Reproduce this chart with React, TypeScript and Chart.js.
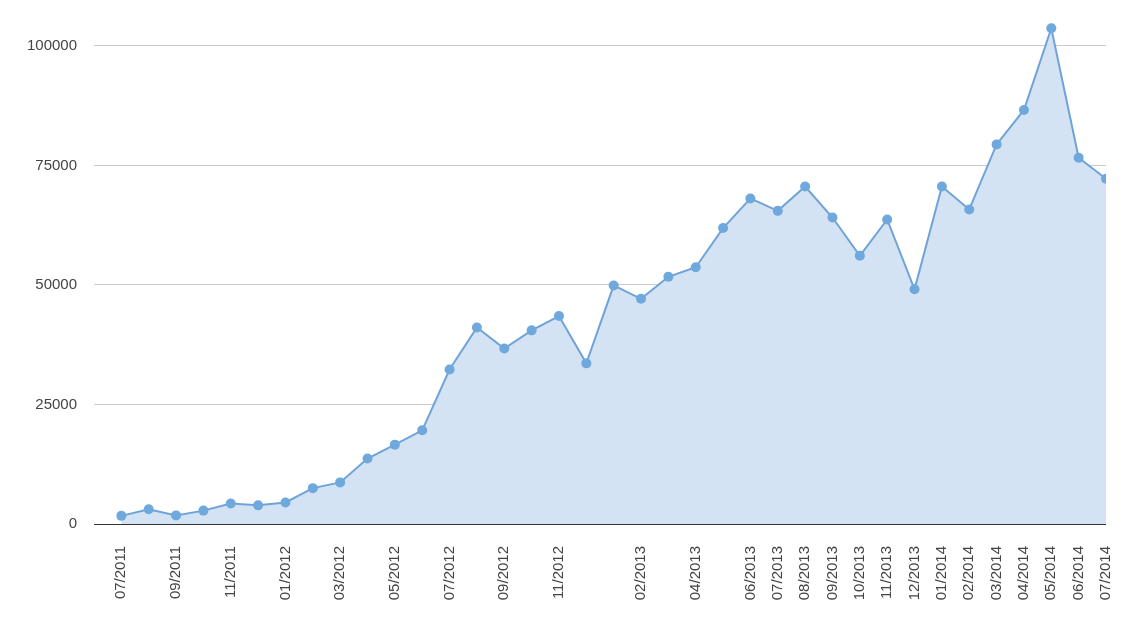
import React, { useEffect, useRef } from "react";
import { Chart, registerables } from "chart.js";

Chart.register(...registerables);

const months = [
  "07/2011", "08/2011", "09/2011", "10/2011", "11/2011", "12/2011",
  "01/2012", "02/2012", "03/2012", "04/2012", "05/2012", "06/2012",
  "07/2012", "08/2012", "09/2012", "10/2012", "11/2012", "12/2012",
  "01/2013", "02/2013", "03/2013", "04/2013", "05/2013", "06/2013",
  "07/2013", "08/2013", "09/2013", "10/2013", "11/2013", "12/2013",
  "01/2014", "02/2014", "03/2014", "04/2014", "05/2014", "06/2014",
  "07/2014",
];

const values = [
  1700, 3100, 1800, 2800, 4300, 3900, 4500, 7500, 8700, 13700, 16600, 19600,
  32300, 41100, 36700, 40500, 43500, 33600, 49900, 47100, 51700, 53700, 61900,
  68100, 65500, 70600, 64100, 56100, 63700, 49100, 70600, 65800, 79400, 86600,
  103700, 76600, 72200,
];

const shownTickLabels = [
  "07/2011", "09/2011", "11/2011", "01/2012", "03/2012", "05/2012",
  "07/2012", "09/2012", "11/2012", "02/2013", "04/2013", "06/2013",
  "07/2013", "08/2013", "09/2013", "10/2013", "11/2013", "12/2013",
  "01/2014", "02/2014", "03/2014", "04/2014", "05/2014", "06/2014",
  "07/2014",
];

const yTicks = [0, 25000, 50000, 75000, 100000];

export default function App() {
  const ref = useRef<HTMLCanvasElement | null>(null);

  useEffect(() => {
    if (!ref.current) return;
    const font = { family: "'Liberation Sans', Arial, sans-serif", size: 15 };
    const chart = new Chart(ref.current, {
      type: "line",
      data: {
        datasets: [
          {
            data: values.map((v, i) => ({ x: i, y: v })),
            borderColor: "#6fa3d8",
            backgroundColor: "#d3e3f4",
            fill: "origin",
            borderWidth: 2,
            tension: 0,
            pointRadius: 5,
            pointBorderWidth: 0,
            pointBackgroundColor: "#6fa8dc",
            pointHoverRadius: 5,
          },
        ],
      },
      options: {
        animation: false,
        responsive: false,
        events: [],
        layout: { padding: { left: 0, top: 22, right: 23, bottom: 0 } },
        plugins: { legend: { display: false }, tooltip: { enabled: false } },
        scales: {
          x: {
            type: "linear",
            min: -1,
            max: 36,
            grid: { display: false, drawTicks: false },
            border: { display: false },
            afterBuildTicks: (scale: any) => {
              scale.ticks = months
                .map((m, i) => ({ value: i, m }))
                .filter((t) => shownTickLabels.includes(t.m))
                .map((t) => ({ value: t.value }));
            },
            afterFit: (scale: any) => {
              scale.height = 96;
              scale.paddingRight = 0;
              scale.paddingLeft = 0;
            },
            ticks: {
              autoSkip: false,
              minRotation: 90,
              maxRotation: 90,
              padding: 22,
              color: "#444",
              font,
              callback: (v: any) => months[Number(v)] ?? "",
            },
          },
          y: {
            type: "linear",
            min: 0,
            max: 105000,
            border: { display: false },
            grid: {
              drawTicks: false,
              color: (ctx: any) =>
                ctx.tick && ctx.tick.value === 0 ? "#333" : "#cccccc",
              lineWidth: 1,
            },
            afterBuildTicks: (scale: any) => {
              scale.ticks = yTicks.map((v) => ({ value: v }));
            },
            afterFit: (scale: any) => {
              scale.width = 94;
              scale.paddingTop = 0;
              scale.paddingBottom = 0;
            },
            ticks: {
              padding: 17,
              color: "#444",
              font,
              callback: (v: any) => String(v),
            },
          },
        },
      },
    });
    return () => chart.destroy();
  }, []);

  return (
    <div
      style={{
        position: "fixed",
        left: 0,
        top: 0,
        width: 1129,
        height: 620,
        background: "#fff",
      }}
    >
      <canvas ref={ref} width={1129} height={620} />
    </div>
  );
}
